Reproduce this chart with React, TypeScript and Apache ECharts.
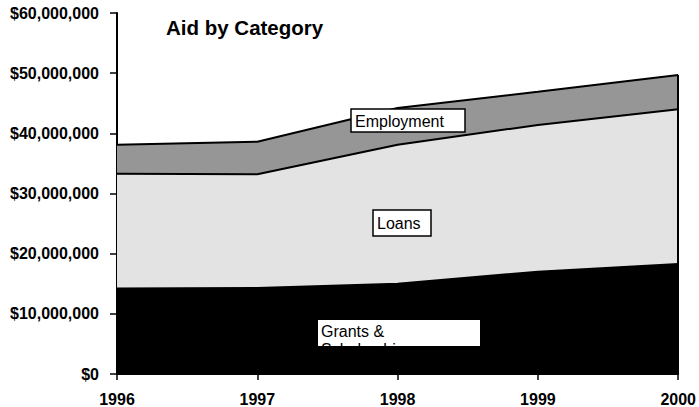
import React, { useEffect, useRef } from "react";
import * as echarts from "echarts";

const years = ["1996", "1997", "1998", "1999", "2000"];
const grants = [14200000, 14300000, 15000000, 17000000, 18300000];
const loans = [19100000, 18900000, 23100000, 24400000, 25700000];
const employment = [4800000, 5400000, 6100000, 5500000, 5700000];
const yTicks = { min: 0, max: 60000000, interval: 10000000 };

const FONT = "Arial, 'Liberation Sans', Helvetica, sans-serif";

export default function App() {
  const ref = useRef<HTMLDivElement>(null);
  useEffect(() => {
    if (!ref.current) return;
    const chart = echarts.init(ref.current, undefined, { renderer: "svg" });
    const lastIdx = years.length - 1;
    const total = grants[lastIdx] + loans[lastIdx] + employment[lastIdx];
    const mkSeries = (name: string, data: number[], color: string, extra: any = {}) => ({
      name,
      type: "line",
      stack: "total",
      data,
      symbol: "none",
      lineStyle: { color: "#000", width: 2 },
      areaStyle: { color, opacity: 1 },
      ...extra,
    });
    chart.setOption({
      animation: false,
      backgroundColor: "#fff",
      grid: { left: 117, right: 18, top: 13, bottom: 33 },
      title: {
        text: "Aid by Category",
        left: 166,
        top: 17,
        padding: 0,
        textStyle: { fontFamily: FONT, fontSize: 20.5, fontWeight: "bold", color: "#000" },
      },
      xAxis: {
        type: "category",
        data: years,
        boundaryGap: false,
        axisLine: { lineStyle: { color: "#000", width: 2 } },
        axisTick: { length: 6, lineStyle: { color: "#000", width: 1.5 } },
        axisLabel: {
          margin: 17,
          fontFamily: FONT,
          fontSize: 16,
          fontWeight: "bold",
          color: "#000",
        },
      },
      yAxis: {
        type: "value",
        min: yTicks.min,
        max: yTicks.max,
        interval: yTicks.interval,
        splitLine: { show: false },
        axisLine: { show: true, lineStyle: { color: "#000", width: 2 } },
        axisTick: { show: true, length: 7, lineStyle: { color: "#000", width: 1.5 } },
        axisLabel: {
          margin: 18,
          fontFamily: FONT,
          fontSize: 16,
          fontWeight: "bold",
          color: "#000",
          formatter: (v: number) => "$" + v.toLocaleString("en-US"),
        },
      },
      series: [
        mkSeries("Grants & Scholarships", grants, "#000000"),
        mkSeries("Loans", loans, "#e3e3e3"),
        mkSeries("Employment", employment, "#969696", {
          markLine: {
            silent: true,
            symbol: ["none", "none"],
            label: { show: false },
            lineStyle: { color: "#000", width: 2, type: "solid" },
            data: [[{ coord: [years[lastIdx], 0] }, { coord: [years[lastIdx], total] }]],
          },
        }),
      ],
      graphic: [
        {
          type: "rect",
          z: 100,
          shape: { x: 351, y: 109, width: 114, height: 23 },
          style: { fill: "#fff", stroke: "#000", lineWidth: 1.5 },
        },
        {
          type: "text",
          z: 101,
          x: 355,
          y: 121,
          style: {
            text: "Employment",
            fontFamily: FONT,
            fontSize: 16,
            fill: "#000",
            verticalAlign: "middle",
          },
        },
        {
          type: "rect",
          z: 100,
          shape: { x: 373, y: 210, width: 58, height: 26 },
          style: { fill: "#fff", stroke: "#000", lineWidth: 1.5 },
        },
        {
          type: "text",
          z: 101,
          x: 377,
          y: 223,
          style: {
            text: "Loans",
            fontFamily: FONT,
            fontSize: 16,
            fill: "#000",
            verticalAlign: "middle",
          },
        },
        {
          type: "rect",
          z: 100,
          shape: { x: 318, y: 320, width: 162, height: 26 },
          style: { fill: "#fff" },
        },
        {
          type: "text",
          z: 101,
          x: 321,
          y: 322,
          style: {
            text: "Grants &\nScholarships",
            fontFamily: FONT,
            fontSize: 16,
            lineHeight: 18,
            fill: "#000",
            verticalAlign: "top",
          },
        },
        {
          type: "rect",
          z: 102,
          shape: { x: 318, y: 346, width: 162, height: 22 },
          style: { fill: "#000" },
        },
      ],
    });
    return () => chart.dispose();
  }, []);
  return <div ref={ref} style={{ width: 699, height: 407, position: "absolute", left: 0, top: 0 }} />;
}
